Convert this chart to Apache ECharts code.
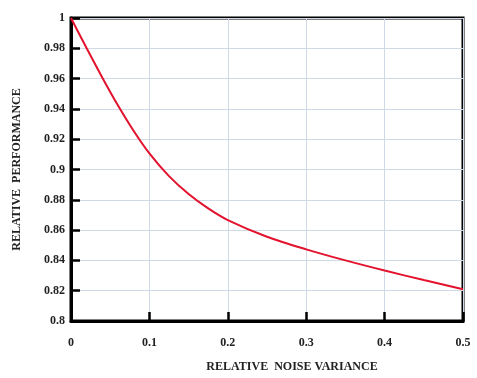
<!DOCTYPE html>
<html>
<head>
<meta charset="utf-8">
<script src="https://cdn.jsdelivr.net/npm/echarts@6/dist/echarts.min.js"></script>
<style>
html,body{margin:0;padding:0;background:#fff;}
#chart{width:477px;height:378px;}
</style>
</head>
<body>
<div id="chart"></div>
<script>
var noiseVariance = [0, 0.02, 0.04, 0.06, 0.08, 0.1, 0.125, 0.15, 0.175, 0.2, 0.25, 0.3, 0.35, 0.4, 0.45, 0.5];
var performance   = [1, 0.98, 0.9606, 0.9422, 0.9254, 0.9106, 0.8956, 0.8838, 0.8743, 0.8666, 0.8556, 0.8473, 0.84, 0.8333, 0.827, 0.821];
var xAxisName = 'RELATIVE  NOISE VARIANCE';
var yAxisName = 'RELATIVE  PERFORMANCE';

var chart = echarts.init(document.getElementById('chart'));
var font = 'Liberation Serif, Times New Roman, serif';
var seriesData = noiseVariance.map(function (x, i) { return [x, performance[i]]; });

chart.setOption({
  animation: false,
  backgroundColor: '#fff',
  grid: {
    left: 71, right: 14, top: 18, bottom: 56,
    show: true, borderColor: '#000', borderWidth: 3
  },
  xAxis: {
    type: 'value', min: 0, max: 0.5, interval: 0.1,
    name: xAxisName, nameLocation: 'middle', nameGap: 40,
    nameTextStyle: { fontFamily: font, fontWeight: 'bold', fontSize: 12, color: '#222', padding: [0, 0, 0, 50] },
    axisLine: { show: true, lineStyle: { color: '#000', width: 3 } },
    axisTick: { show: true, inside: true, length: 9, lineStyle: { color: '#000', width: 2.5 } },
    axisLabel: { margin: 16, fontFamily: font, fontWeight: 'bold', fontSize: 12, color: '#222' },
    splitLine: { show: true, lineStyle: { color: '#cfdae6', width: 1 } }
  },
  yAxis: {
    type: 'value', min: 0.8, max: 1, interval: 0.02,
    name: yAxisName, nameLocation: 'middle', nameGap: 48,
    nameTextStyle: { fontFamily: font, fontWeight: 'bold', fontSize: 12, color: '#222' },
    axisLine: { show: true, lineStyle: { color: '#000', width: 3 } },
    axisTick: { show: true, inside: true, length: 9, lineStyle: { color: '#000', width: 2.5 } },
    axisLabel: { margin: 6, fontFamily: font, fontWeight: 'bold', fontSize: 12, color: '#222' },
    splitLine: { show: true, lineStyle: { color: '#cfdae6', width: 1 } }
  },
  series: [{
    type: 'line',
    data: seriesData,
    smooth: 0.3,
    showSymbol: false,
    lineStyle: { color: '#e3122d', width: 2 },
    z: 5
  }]
});
</script>
</body>
</html>
